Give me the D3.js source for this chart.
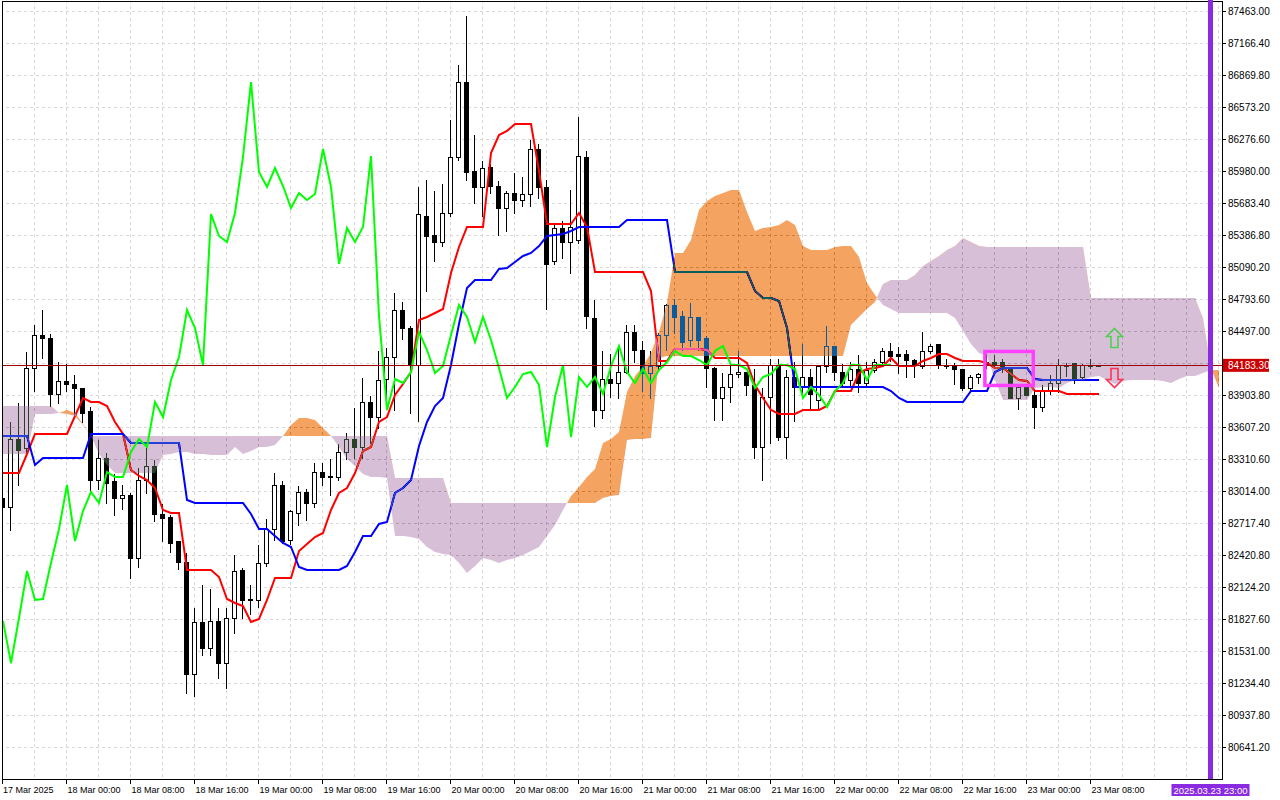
<!DOCTYPE html>
<html>
<head>
<meta charset="utf-8">
<script src="https://cdn.jsdelivr.net/npm/d3@7"></script>
<style>
  html, body { margin: 0; padding: 0; background: #fff; }
  svg { display: block; font-family: "Liberation Sans", Arial, sans-serif; }
</style>
</head>
<body>
<svg id="chart" width="1280" height="800"></svg>
<script>
// BTC H1, 17 Mar 16:00 .. 23 Mar 09:00 (bar index 0..137)
var opens = [82958,82866,83496,83413,84163,84460,84441,83922,84034,84015,83969,83756,83125,83329,83107,82958,82986,82402,83116,83246,
  82810,82782,82551,82356,81327,81809,81559,81818,81420,81837,82282,82022,82004,82347,82671,83070,82569,82819,83005,82912,
  83199,83162,83144,83376,83496,83422,83848,83700,84061,84265,84692,84534,84182,85572,85396,85322,85591,86110,86814,85980,
  85832,86026,85850,85646,85785,85720,85767,86193,85832,85146,85452,85322,85341,86119,84618,83774,84061,84024,84126,84488,
  84330,84108,84173,84469,84738,84645,84414,84627,84441,84163,83876,83978,84099,84117,83997,83422,83894,84191,83515,84071,
  83978,84071,83858,84173,84358,84126,84052,84154,84024,84136,84210,84312,84284,84284,84237,84173,84312,84377,84191,84191,
  84145,83969,84071,84210,84210,84210,84145,83885,83978,83913,83793,83950,84024,84191,84201,84071,84191,84190];
var highs = [83023,83672,83848,84312,84562,84710,84479,84219,84201,84099,83987,83811,83496,83376,83181,83088,83005,83237,83422,83311,
  82912,82801,82560,82449,81939,82161,82115,81948,81939,82439,82310,82161,82532,82773,83199,83125,82856,83070,83051,83292,
  83292,83329,83468,83570,83793,84071,83904,84321,84349,84859,84784,84553,85850,85906,85813,85878,86471,86981,87435,86332,
  86082,86063,85897,85804,85971,85934,86277,86240,85915,85498,85526,85822,86490,86175,84794,84330,84302,84349,84562,84562,
  84414,84321,84488,84757,84812,84692,84766,84645,84460,84173,84117,84182,84321,84126,84163,83978,84256,84256,84154,84228,
  84395,84163,84191,84553,84367,84201,84228,84284,84228,84256,84349,84404,84358,84339,84247,84506,84395,84386,84256,84210,
  84163,84099,84126,84302,84293,84247,84154,84015,84015,83969,84015,84099,84256,84210,84201,84201,84247,84192];
var lows = [82819,82653,83070,83376,83950,84256,83811,83830,83950,83691,83654,82996,83033,82903,82792,82856,82208,82310,82996,82736,
  82551,82449,82300,81142,81114,81494,81494,81290,81197,81707,81837,81883,81939,82319,82560,82541,82532,82708,82754,82866,
  83070,82977,83125,83311,83329,83329,83459,83607,83876,83765,84423,83737,83672,84877,85155,85285,85563,86082,85897,85684,
  85572,85785,85387,85424,85591,85656,85656,85739,84701,85127,85174,85035,85313,84525,83617,83691,83894,83876,84108,84210,
  83950,83876,84136,84330,84479,84330,84367,84330,83978,83681,83681,83839,84071,83904,83329,83116,83459,83487,83329,83663,
  83922,83783,83783,84117,84043,83997,83978,83932,83978,84126,84201,84228,84108,84071,84071,84163,84302,84163,84163,84015,
  83959,83959,84024,84163,84173,84117,83876,83783,83904,83598,83756,83922,83932,84080,84024,84061,84163,84180];
var closes = [82866,83496,83403,84163,84460,84441,83922,84034,84015,83969,83746,83116,83329,83097,82958,82986,82402,83125,83246,82810,
  82773,82541,82356,81327,81809,81559,81818,81420,81846,82273,82004,82013,82347,82662,83070,82551,82829,83005,82912,83199,
  83153,83144,83376,83496,83422,83848,83700,84052,84265,84692,84534,84182,85582,85378,85322,85591,86110,86814,85971,85832,
  86017,85841,85646,85785,85720,85767,86193,85832,85127,85452,85322,85470,86128,84645,83774,84061,84024,84117,84488,84330,
  84108,84173,84469,84738,84636,84404,84627,84414,84163,83885,83978,84099,84117,83997,83422,83894,84191,83515,84071,83978,
  84071,83922,84173,84358,84126,84024,84154,84024,84136,84210,84312,84274,84274,84237,84182,84312,84367,84191,84182,84145,
  83969,84071,84099,84182,84191,84154,83885,83978,83913,83793,83950,84024,84191,84182,84052,84182,84182,84183.3];

// Ichimoku lines
var tenkan = [83181,83181,83181,83366,83551,83551,83551,83551,83551,83718,83885,83839,83839,83811,83654,83551,83209,83162,83116,83042,
  82838,82819,82819,82282,82282,82282,82282,82217,82013,81976,81957,81809,81828,82004,82208,82208,82208,82467,82532,82588,
  82625,82838,82996,83051,83181,83394,83422,83654,83709,83904,84015,84117,84599,84627,84673,84710,85035,85276,85470,85470,
  85470,86147,86314,86360,86416,86416,86416,85989,85498,85498,85498,85498,85591,85461,85053,85053,85053,85053,85053,85053,
  85053,84877,84228,84228,84339,84339,84339,84339,84321,84247,84247,84247,84247,84201,83997,83885,83765,83728,83728,83728,
  83765,83765,83765,83811,83941,83941,83941,84108,84154,84163,84173,84256,84173,84173,84173,84228,84256,84293,84293,84256,
  84228,84228,84228,84201,84163,84163,84099,84043,84034,83950,83950,83941,83941,83922,83922,83922,83922,83922];
var kijun = [83533,83533,83533,83533,83255,83320,83320,83320,83320,83320,83320,83551,83551,83551,83551,83551,83459,83459,83459,83459,
  83459,83459,83459,82931,82912,82912,82912,82912,82912,82912,82912,82810,82671,82662,82597,82541,82495,82310,82282,82282,
  82282,82282,82282,82319,82449,82597,82597,82717,82727,82996,83051,83116,83440,83654,83811,83876,84191,84562,84896,84970,
  84970,84970,85072,85090,85137,85201,85220,85294,85378,85387,85405,85433,85470,85470,85470,85470,85470,85470,85526,85535,
  85535,85535,85535,85535,85053,85053,85053,85053,85053,85053,85053,85053,85053,85044,84877,84803,84803,84784,84525,83978,
  83978,83978,83978,83978,83978,83978,83978,83978,83978,83978,83978,83941,83876,83839,83839,83839,83839,83839,83839,83839,
  83839,83941,83941,83950,84117,84163,84163,84163,84163,84061,84052,84052,84052,84052,84052,84052,84052,84052];
var chikou = [81818,81420,81846,82273,82004,82013,82347,82662,83070,82551,82829,83005,82912,83199,83153,83144,83376,83496,83422,83848,
  83700,84052,84265,84692,84534,84182,85582,85378,85322,85591,86110,86814,85971,85832,86017,85841,85646,85785,85720,85767,
  86193,85832,85127,85452,85322,85470,86128,84645,83774,84061,84024,84117,84488,84330,84108,84173,84469,84738,84636,84404,
  84627,84414,84163,83885,83978,84099,84117,83997,83422,83894,84191,83515,84071,83978,84071,83922,84173,84358,84126,84024,
  84154,84024,84136,84210,84312,84274,84274,84237,84182,84312,84367,84191,84182,84145,83969,84071,84099,84182,84191,84154,
  83885,83978,83913,83793,83950,84024,84191,84182,84052,84182,84182,84183];
// Senkou spans, already shifted forward (bar index 0..152)
var spanA = [83366,83366,83366,83366,83728,83728,83728,83737,83765,83737,83644,83533,83366,83255,83181,83181,83181,83181,83181,83190,
  83348,83366,83376,83376,83366,83357,83348,83348,83348,83422,83357,83394,83422,83431,83441,83533,83626,83691,83691,83681,
  83607,83533,83422,83311,83246,83172,83144,83144,83135,82606,82597,82588,82578,82504,82449,82439,82421,82347,82254,82319,
  82393,82375,82347,82375,82402,82430,82458,82495,82606,82699,82838,82968,83060,83144,83218,83459,83505,83561,83932,84080,
  84173,84302,84488,84757,85220,85229,85341,85619,85702,85749,85785,85804,85813,85600,85433,85452,85470,85480,85526,85480,
  85294,85257,85257,85257,85276,85285,85285,85192,84951,84831,84738,84701,84664,84664,84664,84664,84664,84664,84664,84618,
  84497,84377,84302,84274,84043,83858,83858,83858,83858,83969,83978,83978,83969,84024,84043,84052,84071,84089,84043,84015,
  84034,84052,84052,84052,84052,84034,84024,84061,84080,84089,84108,84136,84136];
var spanB = [83802,83802,83802,83802,83802,83802,83802,83737,83728,83718,83635,83533,83533,83533,83533,83533,83533,83533,83533,83533,
  83533,83533,83533,83533,83533,83533,83533,83533,83533,83533,83533,83533,83533,83533,83533,83533,83533,83533,83533,83533,
  83533,83533,83533,83533,83533,83533,83533,83533,83533,83135,83135,83135,83135,83135,83135,83135,82912,82912,82912,82912,
  82912,82912,82912,82912,82912,82912,82912,82912,82912,82912,82912,82912,82912,82912,82912,82958,82968,82977,83487,83505,
  83505,83514,84247,84274,84274,84274,84274,84274,84274,84274,84274,84274,84274,84274,84274,84274,84274,84274,84274,84274,
  84274,84274,84274,84274,84274,84274,84553,84636,84701,84766,84933,84970,84970,84970,85025,85100,85155,85201,85248,85285,
  85359,85322,85285,85276,85276,85276,85276,85276,85276,85276,85276,85276,85276,85276,85276,85276,84803,84803,84803,84803,
  84803,84803,84803,84803,84803,84803,84803,84803,84803,84803,84618,84154,83969];

var lastPrice = 84183.3;
var priceTicks = [87463.00,87166.40,86869.80,86573.20,86276.60,85980.00,85683.40,85386.80,85090.20,84793.60,84497.00,84200.40,
  83903.80,83607.20,83310.60,83014.00,82717.40,82420.80,82124.20,81827.60,81531.00,81234.40,80937.80,80641.20];
var labelBars = [0,8,16,24,32,40,48,56,64,72,80,88,96,104,112,120,128,136];
var timeLabels = ["17 Mar 2025","18 Mar 00:00","18 Mar 08:00","18 Mar 16:00","19 Mar 00:00","19 Mar 08:00","19 Mar 16:00",
  "20 Mar 00:00","20 Mar 08:00","20 Mar 16:00","21 Mar 00:00","21 Mar 08:00","21 Mar 16:00","22 Mar 00:00","22 Mar 08:00",
  "22 Mar 16:00","23 Mar 00:00","23 Mar 08:00"];
// chart objects
var vlineBar = 151, vlineLabel = "2025.03.23 23:00";
var boxBars = [122.8, 128.85], boxPrices = [84312, 83997];
var arrowUp = { bar: 139, price: 84525 }, arrowDown = { bar: 139, price: 84154 };

var W = 1280, H = 800, plotRight = 1222, plotBottom = 779;

// one bar = 8 px
var x = d3.scaleLinear().domain([0, 1]).range([2.5, 10.5]);
var y = d3.scaleLinear().domain([80641.2, 87463]).range([747.5, 11.5]);
function px(i) { return Math.round(x(i)); }
function py(v) { return Math.round(y(v)); }

var svg = d3.select("#chart");
svg.append("rect").attr("width", W).attr("height", H).attr("fill", "#fff");

var defs = svg.append("defs");
defs.append("clipPath").attr("id", "plotClip")
  .append("rect").attr("x", 3).attr("y", 2).attr("width", plotRight - 3).attr("height", plotBottom - 2);

var idx = spanA.map(function(d, i) { return i; });
var aboveB = d3.area().x(px).y0(0).y1(function(i) { return py(spanB[i]); });
var belowB = d3.area().x(px).y0(function(i) { return py(spanB[i]); }).y1(H);
defs.append("clipPath").attr("id", "clipAboveB").append("path").attr("d", aboveB(idx));
defs.append("clipPath").attr("id", "clipBelowB").append("path").attr("d", belowB(idx));

var plot = svg.append("g").attr("clip-path", "url(#plotClip)");
// white backdrop inside the group so the cloud blend has something to work on
plot.append("rect").attr("width", W).attr("height", H).attr("fill", "#fff");

// grid
var grid = plot.append("g")
  .attr("stroke", "#d8d8d8")
  .attr("stroke-dasharray", "3,3")
  .attr("shape-rendering", "crispEdges");
grid.selectAll("line.v").data(d3.range(0, 153, 4)).join("line")
  .attr("class", "v")
  .attr("x1", function(d) { return x(d); }).attr("x2", function(d) { return x(d); })
  .attr("y1", 0).attr("y2", plotBottom);
grid.selectAll("line.h").data(priceTicks).join("line")
  .attr("class", "h")
  .attr("x1", 0).attr("x2", plotRight)
  .attr("y1", function(d) { return y(d); }).attr("y2", function(d) { return y(d); });

// candles
var bars = closes.map(function(c, i) {
  return { i: i, o: opens[i], h: highs[i], l: lows[i], c: c };
});
var candles = plot.append("g").attr("shape-rendering", "crispEdges");
candles.selectAll("line").data(bars).join("line")
  .attr("x1", function(d) { return x(d.i); }).attr("x2", function(d) { return x(d.i); })
  .attr("y1", function(d) { return py(d.h) + 0.5; })
  .attr("y2", function(d) { return py(d.l) + 0.5; })
  .attr("stroke", "#000");
candles.selectAll("rect").data(bars).join("rect")
  .attr("x", function(d) { return x(d.i) - 2; })
  .attr("width", 4)
  .attr("y", function(d) { return py(Math.max(d.o, d.c)) + 0.5; })
  .attr("height", function(d) {
    return Math.max(py(Math.min(d.o, d.c)) - py(Math.max(d.o, d.c)), 1);
  })
  .attr("fill", function(d) { return d.c >= d.o ? "#fff" : "#000"; })
  .attr("stroke", "#000");

// tenkan / kijun, snapped to whole pixels like the terminal draws them
var line = d3.line()
  .x(function(d, i) { return px(i); })
  .y(function(d) { return py(d); });
plot.append("path").attr("d", line(tenkan)).attr("fill", "none").attr("stroke", "#ff0000").attr("stroke-width", 2);
plot.append("path").attr("d", line(kijun)).attr("fill", "none").attr("stroke", "#0000ff").attr("stroke-width", 2);

// kumo: drawn with difference so it behaves like MT5's xor fill
var between = d3.area().x(px)
  .y0(function(i) { return py(spanA[i]); })
  .y1(function(i) { return py(spanB[i]); });
plot.append("path").attr("d", between(idx))
  .attr("fill", "#0b5b9f")
  .attr("clip-path", "url(#clipAboveB)")
  .style("mix-blend-mode", "difference");
plot.append("path").attr("d", between(idx))
  .attr("fill", "#274027")
  .attr("clip-path", "url(#clipBelowB)")
  .style("mix-blend-mode", "difference");

// chikou
plot.append("path").attr("d", line(chikou)).attr("fill", "none").attr("stroke", "#00ff00").attr("stroke-width", 2);

// last price line
plot.append("line")
  .attr("x1", 0).attr("x2", plotRight)
  .attr("y1", py(lastPrice) + 0.5).attr("y2", py(lastPrice) + 0.5)
  .attr("stroke", "#a00000").attr("shape-rendering", "crispEdges");

// rectangle object
plot.append("rect")
  .attr("x", x(boxBars[0])).attr("y", y(boxPrices[0]))
  .attr("width", x(boxBars[1]) - x(boxBars[0]))
  .attr("height", y(boxPrices[1]) - y(boxPrices[0]))
  .attr("fill", "none").attr("stroke", "#ff40ff").attr("stroke-width", 3.5);

// arrows
function arrowPath(up) {
  var p = up
    ? [[0,0],[8,8],[3.5,8],[3.5,19],[-3.5,19],[-3.5,8],[-8,8]]
    : [[-3.5,0],[3.5,0],[3.5,11],[8,11],[0,19],[-8,11],[-3.5,11]];
  return "M" + p.map(function(q) { return q.join(","); }).join("L") + "Z";
}
plot.append("path")
  .attr("transform", "translate(" + x(arrowUp.bar) + "," + y(arrowUp.price) + ")")
  .attr("d", arrowPath(true))
  .attr("fill", "none").attr("stroke", "#4fcf4f").attr("stroke-width", 1.6);
plot.append("path")
  .attr("transform", "translate(" + x(arrowDown.bar) + "," + y(arrowDown.price) + ")")
  .attr("d", arrowPath(false))
  .attr("fill", "none").attr("stroke", "#ff3355").attr("stroke-width", 1.6);

// frame
svg.append("rect")
  .attr("x", 2.5).attr("y", 1.5)
  .attr("width", plotRight - 2.5).attr("height", plotBottom - 1.5)
  .attr("fill", "none").attr("stroke", "#000").attr("shape-rendering", "crispEdges");

// vertical line object
svg.append("rect")
  .attr("x", x(vlineBar) - 2.5).attr("y", 0)
  .attr("width", 5).attr("height", plotBottom)
  .attr("fill", "#8a2be2");

// price scale
var showTicks = priceTicks.filter(function(t) { return Math.abs(y(t) - y(lastPrice)) > 8; });
var pAxis = svg.append("g");
pAxis.selectAll("line").data(priceTicks).join("line")
  .attr("x1", plotRight).attr("x2", plotRight + 4)
  .attr("y1", function(d) { return y(d); }).attr("y2", function(d) { return y(d); })
  .attr("stroke", "#000").attr("shape-rendering", "crispEdges");
pAxis.selectAll("text").data(showTicks).join("text")
  .attr("x", plotRight + 6)
  .attr("y", function(d) { return y(d) + 3.5; })
  .attr("font-size", 10)
  .attr("fill", "#000")
  .text(function(d) { return d.toFixed(2); });

var ly = y(lastPrice);
svg.append("rect").attr("x", plotRight + 1).attr("y", ly - 6.5).attr("width", 46).attr("height", 13).attr("fill", "#cc0000");
svg.append("text").attr("x", plotRight + 6).attr("y", ly + 3.5)
  .attr("font-size", 10).attr("fill", "#fff").text(lastPrice.toFixed(2));

// time scale
var tAxis = svg.append("g");
tAxis.selectAll("line").data(labelBars).join("line")
  .attr("x1", function(d) { return d === 0 ? 2.5 : x(d); })
  .attr("x2", function(d) { return d === 0 ? 2.5 : x(d); })
  .attr("y1", plotBottom).attr("y2", plotBottom + 5)
  .attr("stroke", "#000").attr("shape-rendering", "crispEdges");
tAxis.selectAll("text").data(labelBars).join("text")
  .attr("x", function(d) { return d === 0 ? 3 : x(d) + 1; })
  .attr("y", plotBottom + 14)
  .attr("font-size", 9)
  .attr("fill", "#000")
  .text(function(d, i) { return timeLabels[i]; });

svg.append("rect").attr("x", x(vlineBar) - 39).attr("y", plotBottom + 5).attr("width", 78).attr("height", 12).attr("fill", "#8a2be2");
svg.append("text").attr("x", x(vlineBar)).attr("y", plotBottom + 14.5)
  .attr("text-anchor", "middle").attr("font-size", 9.5).attr("fill", "#fff").text(vlineLabel);
</script>
</body>
</html>
